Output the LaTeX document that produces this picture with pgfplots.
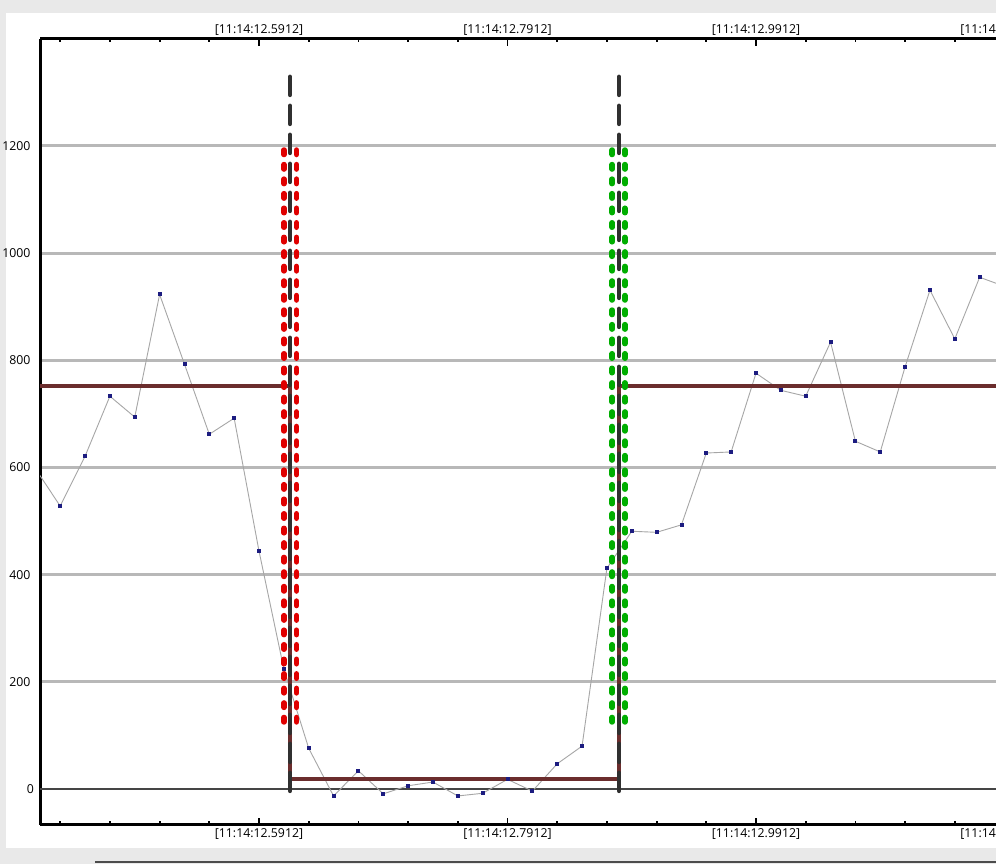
\documentclass[border=0pt]{standalone}
\usepackage{pgfplots}
\pgfplotsset{compat=1.18}
\usepackage{fontspec}
\setmainfont{Open Sans}

\definecolor{framegray}{HTML}{E9E9E9}
\definecolor{gridgray}{HTML}{B8B8B8}
\definecolor{zeroline}{HTML}{454545}
\definecolor{stepbrown}{HTML}{6B2D2D}
\definecolor{sampleline}{HTML}{A6A6A6}
\definecolor{samplemark}{HTML}{1C1C80}
\definecolor{startred}{HTML}{E00000}
\definecolor{endgreen}{HTML}{00AE00}
\definecolor{cursor}{HTML}{303030}

\pgfplotsset{
  trace axis/.style={
    scale only axis,
    at={(40pt,39pt)}, anchor=south west,
    width=1000.3pt, height=786pt,
    xmin=414.94, xmax=1220, ymin=-67.2, ymax=1399.7,
    tick label style={font=\fontsize{12.3}{14}\selectfont},
    /pgf/number format/assume math mode=true,
    /pgf/number format/1000 sep={},
    xtick={591.2,791.2,991.2,1191.2},
    xticklabels={{[11:14:12.5912]},{[11:14:12.7912]},{[11:14:12.9912]},{[11:14:13.1912]}},
  }
}

\begin{document}
\begin{tikzpicture}
\useasboundingbox (0,0) rectangle (996pt,864pt);
\fill[framegray] (0,0) rectangle (996pt,864pt);
\fill[white] (6pt,16pt) rectangle (996pt,851pt);
\draw[gray!60!black, line width=1.5pt] (95pt,2pt) -- (996pt,2pt);
\clip (0,0) rectangle (996pt,864pt);

\begin{axis}[
    trace axis,
    axis x line=box, axis y line=left,
    axis line style={black, line width=3pt, -},
    minor xtick={431.2,471.2,511.2,551.2,631.2,671.2,711.2,751.2,831.2,871.2,911.2,951.2,1031.2,1071.2,1111.2,1151.2},
    major tick length=7pt, minor tick length=3.5pt,
    xtick style={black, line width=1.8pt},
    minor tick style={line width=1pt, color=black!70},
    ytick={200,400,600,800,1000,1200},
    ytick style={draw=none},
    extra y ticks={0},
    extra y tick style={major tick length=0pt, major grid style={zeroline, line width=2.5pt}},
    yticklabel style={xshift=-2.5pt},
    ymajorgrids,
    major grid style={gridgray, line width=3pt},
  ]
  % samples
  \addplot[sampleline, line width=0.9pt, mark=square*, mark size=1.5pt,
           mark options={draw=samplemark, fill=samplemark}]
    coordinates {
      (411.2,598) (431.2,528) (451.2,621) (471.2,733) (491.2,694)
      (511.2,923) (531.2,793) (551.2,662) (571.2,692) (591.2,444)
      (611.2,224) (631.2,76) (651.2,-13) (671.2,34) (691.2,-9)
      (711.2,6) (731.2,13) (751.2,-13) (771.2,-8) (791.2,18)
      (811.2,-4) (831.2,47) (851.2,80) (871.2,412) (891.2,481)
      (911.2,479) (931.2,493) (951.2,627) (971.2,629) (991.2,776)
      (1011.2,744) (1031.2,733) (1051.2,834) (1071.2,649) (1091.2,629)
      (1111.2,788) (1131.2,931) (1151.2,840) (1171.2,955) (1191.2,938)
    };
  % level step
  \addplot[stepbrown, line width=4.5pt]
    coordinates {(414.94,752) (616.15,752) (616.15,19) (880.9,19) (880.9,752) (1220,752)};
  % start / end markers
  \addplot[startred, line width=5.5pt, line cap=round, dash pattern=on 4.5pt off 10.05pt]
    coordinates {(611.32,1192.5) (611.32,124)};
  \addplot[startred, line width=5.5pt, line cap=round, dash pattern=on 4.5pt off 10.05pt]
    coordinates {(621.38,1192.5) (621.38,124)};
  \addplot[endgreen, line width=5.5pt, line cap=round, dash pattern=on 4.5pt off 10.05pt]
    coordinates {(875.5,1192.5) (875.5,124)};
  \addplot[endgreen, line width=5.5pt, line cap=round, dash pattern=on 4.5pt off 10.05pt]
    coordinates {(885.6,1192.5) (885.6,124)};
  % cursors
  \addplot[cursor, line width=4.5pt, line cap=round, dash pattern=on 18pt off 11pt]
    coordinates {(616.15,1329) (616.15,-11)};
  \addplot[cursor, line width=4.5pt, line cap=round, dash pattern=on 18pt off 11pt]
    coordinates {(880.9,1329) (880.9,-11)};
\end{axis}

\begin{axis}[
    trace axis,
    axis x line*=top, axis y line=none,
    x axis line style={draw=none},
    xtick style={draw=none},
  ]
\end{axis}
\end{tikzpicture}
\end{document}
